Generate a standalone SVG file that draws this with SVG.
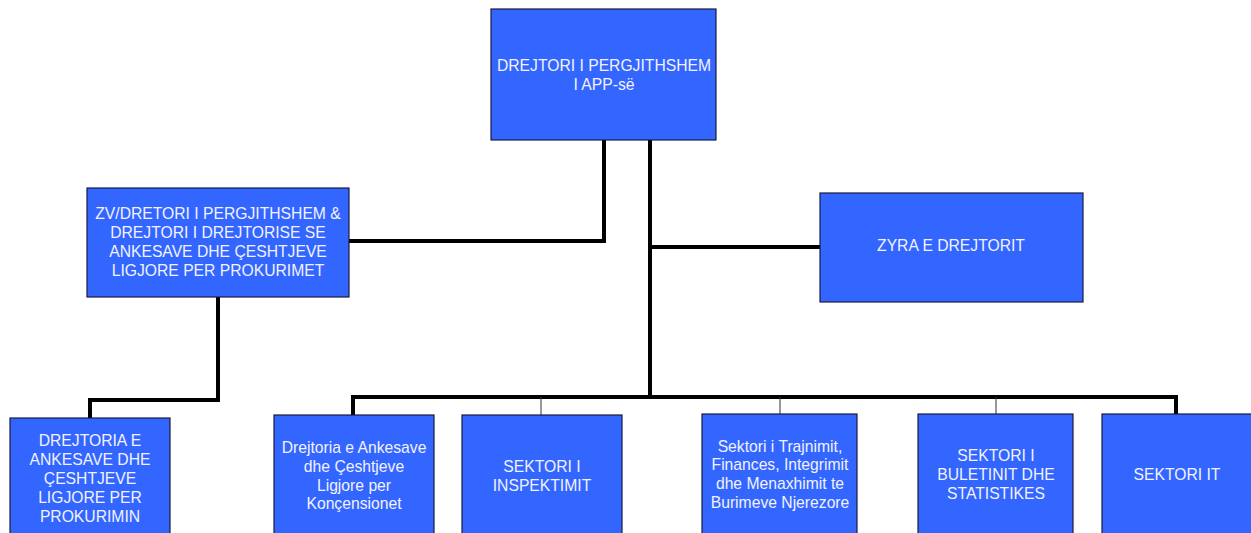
<svg xmlns="http://www.w3.org/2000/svg" width="1251" height="533" viewBox="0 0 1251 533">
<style>
.box{fill:#3366FF;stroke:#1a1a40;stroke-width:1.2}
.t{font-family:"Liberation Sans",Arial,sans-serif;font-size:15.7px;fill:#F2F2FF;text-anchor:middle}
.thick{stroke:#000;stroke-width:4;fill:none;stroke-linecap:square;stroke-linejoin:miter}
.thin{stroke:#333;stroke-width:1;fill:none}
</style>
<rect width="1251" height="533" fill="#fff"/>
<g id="connectors">
<polyline class="thick" points="604,140 604,241 349,241"/>
<polyline class="thick" points="650,140 650,397"/>
<polyline class="thick" points="650,247 820,247"/>
<polyline class="thick" points="218,297 218,400 90,400 90,418"/>
<polyline class="thick" points="353,415 353,397 1176,397 1176,414"/>
<line class="thin" x1="541" y1="397" x2="541" y2="415"/>
<line class="thin" x1="780" y1="397" x2="780" y2="414"/>
<line class="thin" x1="996" y1="397" x2="996" y2="414"/>
</g>
<g id="n_top">
<rect class="box" x="491" y="9" width="225" height="131"/>
<text class="t" x="604" y="71">DREJTORI I PERGJITHSHEM</text>
<text class="t" x="604" y="90">I APP-së</text>
</g>
<g id="n_zv">
<rect class="box" x="87" y="188" width="262" height="109"/>
<text class="t" x="218" y="219">ZV/DRETORI I PERGJITHSHEM &amp;</text>
<text class="t" x="218" y="238">DREJTORI I DREJTORISE SE</text>
<text class="t" x="218" y="257">ANKESAVE DHE ÇESHTJEVE</text>
<text class="t" x="218" y="276">LIGJORE PER PROKURIMET</text>
</g>
<g id="n_zyra">
<rect class="box" x="820" y="193" width="263" height="109"/>
<text class="t" x="951" y="251">ZYRA E DREJTORIT</text>
</g>
<g id="n_a">
<rect class="box" x="10" y="418" width="160" height="130"/>
<text class="t" x="90" y="446">DREJTORIA E</text>
<text class="t" x="90" y="465">ANKESAVE DHE</text>
<text class="t" x="90" y="484">ÇESHTJEVE</text>
<text class="t" x="90" y="503">LIGJORE PER</text>
<text class="t" x="90" y="522">PROKURIMIN</text>
</g>
<g id="n_b">
<rect class="box" x="274" y="415" width="160" height="130"/>
<text class="t" x="354" y="453">Drejtoria e Ankesave</text>
<text class="t" x="354" y="472">dhe Çeshtjeve</text>
<text class="t" x="354" y="491">Ligjore per</text>
<text class="t" x="354" y="509">Konçensionet</text>
</g>
<g id="n_c">
<rect class="box" x="462" y="415" width="160" height="130"/>
<text class="t" x="542" y="472">SEKTORI I</text>
<text class="t" x="542" y="491">INSPEKTIMIT</text>
</g>
<g id="n_d">
<rect class="box" x="702" y="414" width="155" height="130"/>
<text class="t" x="780" y="452">Sektori i Trajnimit,</text>
<text class="t" x="780" y="470">Finances, Integrimit</text>
<text class="t" x="780" y="489">dhe Menaxhimit te</text>
<text class="t" x="780" y="508">Burimeve Njerezore</text>
</g>
<g id="n_e">
<rect class="box" x="918" y="414" width="155" height="130"/>
<text class="t" x="996" y="461">SEKTORI I</text>
<text class="t" x="996" y="480">BULETINIT DHE</text>
<text class="t" x="996" y="499">STATISTIKES</text>
</g>
<g id="n_f">
<rect class="box" x="1102" y="414" width="155" height="130"/>
<text class="t" x="1177" y="480">SEKTORI IT</text>
</g>
</svg>
